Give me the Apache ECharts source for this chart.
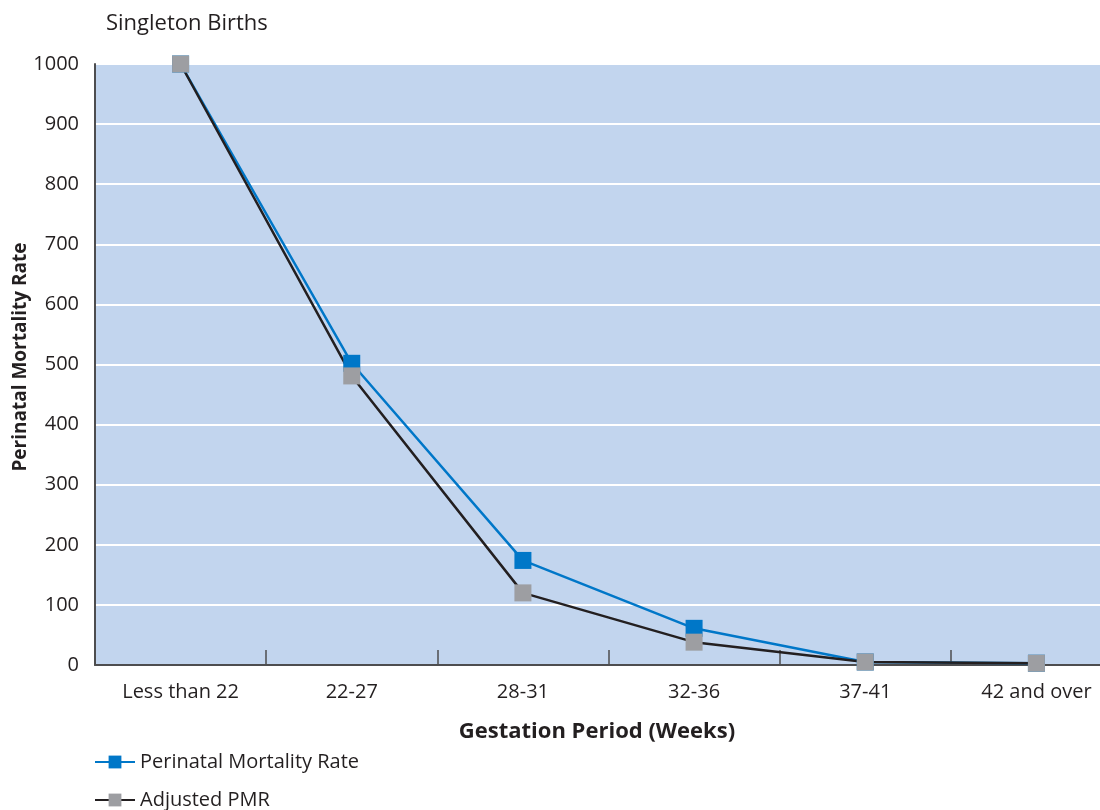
<!DOCTYPE html>
<html><head><meta charset="utf-8">
<script src="https://cdn.jsdelivr.net/npm/echarts@6/dist/echarts.min.js"></script>
<style>html,body{margin:0;padding:0;background:#fff;overflow:hidden;width:1100px;height:810px}#c{width:1122px;height:810px}</style>
</head><body><div id="c"></div>
<script>
const categories = ['Less than 22','22-27','28-31','32-36','37-41','42 and over'];
const perinatalRate = [1000, 502, 174, 61, 5, 3];
const adjustedPMR = [1000, 481, 120, 38, 5, 3];
const yTicks = [0, 100, 200, 300, 400, 500, 600, 700, 800, 900, 1000];

const FONT = '"Open Sans", "Noto Sans", sans-serif';
const legendBase = {
  orient: 'horizontal', left: 94, itemWidth: 40, itemHeight: 16, padding: 0,
  textStyle: {fontFamily: FONT, fontSize: 20, color: '#231F20'}
};
const chart = echarts.init(document.getElementById('c'));
chart.setOption({
  animation: false,
  title: [
    {text: 'Singleton Births', left: 101, top: 8, textStyle: {fontFamily: FONT, fontSize: 22, fontWeight: 'normal', color: '#231F20'}},
    {text: 'Gestation Period (Weeks)', left: 592, top: 716, textAlign: 'center', textStyle: {fontFamily: FONT, fontSize: 22, fontWeight: 'bold', color: '#231F20'}}
  ],
  graphic: [{
    type: 'text', x: 21, y: 357, rotation: Math.PI / 2,
    style: {text: 'Perinatal Mortality Rate', fontFamily: FONT, fontSize: 19, fontWeight: 'bold',
      fill: '#231F20', align: 'center', verticalAlign: 'middle'}
  }],
  legend: [
    Object.assign({}, legendBase, {top: 752, data: ['Perinatal Mortality Rate']}),
    Object.assign({}, legendBase, {top: 790, data: ['Adjusted PMR']})
  ],
  grid: {left: 95, right: 0, top: 64, height: 601, show: true, backgroundColor: '#C2D5EE', borderWidth: 0,
    outerBoundsMode: 'none', containLabel: false},
  xAxis: {
    type: 'category', data: categories, boundaryGap: true,
    axisLine: {lineStyle: {color: '#4D4D4F', width: 2}},
    axisTick: {show: true, inside: true, length: 15, lineStyle: {color: '#4D4D4F', width: 1.5}},
    axisLabel: {fontFamily: FONT, fontSize: 20, color: '#231F20', margin: 17}
  },
  yAxis: {
    type: 'value', min: 0, max: 1000, interval: 100,
    axisLine: {show: true, lineStyle: {color: '#4D4D4F', width: 2}},
    axisTick: {show: false},
    axisLabel: {fontFamily: FONT, fontSize: 20, color: '#231F20', margin: 16,
      formatter: v => yTicks.includes(v) ? String(v) : ''},
    splitLine: {show: true, lineStyle: {color: '#FFFFFF', width: 2}}
  },
  series: [
    {name: 'Perinatal Mortality Rate', type: 'line', data: perinatalRate, symbol: 'rect', symbolSize: 17,
      lineStyle: {color: '#0077C8', width: 2.5}, itemStyle: {color: '#0077C8'}},
    {name: 'Adjusted PMR', type: 'line', data: adjustedPMR, symbol: 'rect', symbolSize: 17,
      lineStyle: {color: '#231F20', width: 2.5}, itemStyle: {color: '#9D9EA2'}}
  ]
});
</script></body></html>
